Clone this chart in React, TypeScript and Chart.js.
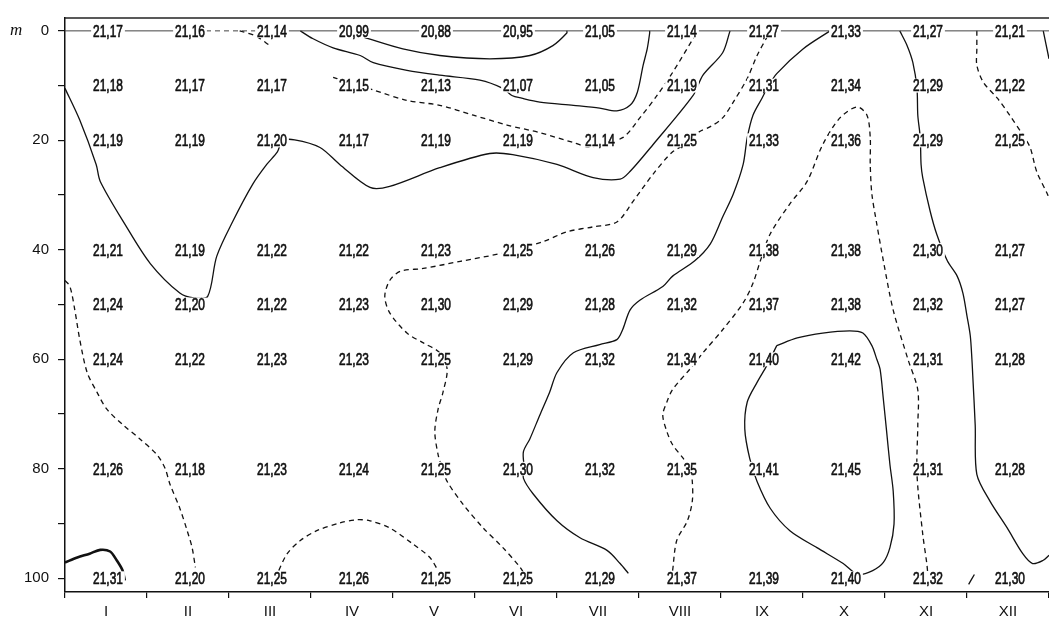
import React, { useEffect, useRef } from 'react';
import { Chart, registerables } from 'chart.js';

Chart.register(...registerables);

// ---- Data ----
const monthLabels = ['I', 'II', 'III', 'IV', 'V', 'VI', 'VII', 'VIII', 'IX', 'X', 'XI', 'XII'];
const monthPositions = [1, 2, 3, 4, 5, 6, 7, 8, 9, 10, 11, 12];
const depthTicks = [0, 10, 20, 30, 40, 50, 60, 70, 80, 90, 100];
const labelledDepths = [0, 20, 40, 60, 80, 100];
const depthUnit = 'm';

const stationDepths = [0, 10, 20, 40, 50, 60, 80, 100];
const t0 = [21.17, 21.16, 21.14, 20.99, 20.88, 20.95, 21.05, 21.14, 21.27, 21.33, 21.27, 21.21];
const t10 = [21.18, 21.17, 21.17, 21.15, 21.13, 21.07, 21.05, 21.19, 21.31, 21.34, 21.29, 21.22];
const t20 = [21.19, 21.19, 21.2, 21.17, 21.19, 21.19, 21.14, 21.25, 21.33, 21.36, 21.29, 21.25];
const t40 = [21.21, 21.19, 21.22, 21.22, 21.23, 21.25, 21.26, 21.29, 21.38, 21.38, 21.3, 21.27];
const t50 = [21.24, 21.2, 21.22, 21.23, 21.3, 21.29, 21.28, 21.32, 21.37, 21.38, 21.32, 21.27];
const t60 = [21.24, 21.22, 21.23, 21.23, 21.25, 21.29, 21.32, 21.34, 21.4, 21.42, 21.31, 21.28];
const t80 = [21.26, 21.18, 21.23, 21.24, 21.25, 21.3, 21.32, 21.35, 21.41, 21.45, 21.31, 21.28];
const t100 = [21.31, 21.2, 21.25, 21.26, 21.25, 21.25, 21.29, 21.37, 21.39, 21.4, 21.32, 21.3];
const valueRows = [t0, t10, t20, t40, t50, t60, t80, t100];

// Sea surface line (month, depth)
const surfaceLine: [number, number][] = [[0.5, 0], [1, 0], [2, 0], [3, 0], [4, 0], [5, 0], [6, 0], [7, 0], [8, 0], [9, 0], [10, 0], [11, 0], [12, 0], [12.5, 0]];

// Hand-drawn isotherms, read as (month, depth m)
const isoMainSolid: [number, number][] = [[0.5, 10.5], [0.68, 16.3], [0.88, 24.4], [0.93, 27.5], [1.23, 35.3], [1.54, 42.5], [1.9, 47.9], [2.07, 48.8], [2.24, 48.5], [2.35, 41.2], [2.55, 34.7], [2.79, 28.0], [2.96, 24.4], [3.09, 22.1], [3.15, 20.1], [3.3, 19.9], [3.61, 21.3], [3.85, 24.4], [4.22, 28.6], [4.46, 28.4], [5.07, 25.0], [5.68, 22.4], [5.96, 22.6], [6.5, 24.4], [6.94, 26.8], [7.27, 27.1], [7.39, 25.7], [7.67, 20.8], [8.16, 11.8], [8.28, 8.1], [8.52, 4.0], [8.61, 0]];
const isoInnerTop: [number, number][] = [[4.15, 1.2], [4.62, 3.3], [5.07, 4.5], [5.68, 5.1], [6.17, 4.5], [6.45, 2.7], [6.62, 0.4], [6.62, 0]];
const isoOuterTop: [number, number][] = [[3.37, 0], [3.52, 1.4], [3.77, 3.1], [4.1, 4.5], [4.26, 5.8], [4.67, 7.2], [5.07, 8.1], [5.56, 9.0], [5.84, 10.5], [5.95, 11.8], [6.07, 12.3], [6.29, 13.0], [6.7, 13.6], [7.02, 14.1], [7.23, 14.6], [7.39, 13.6], [7.48, 11.2], [7.55, 6.3], [7.6, 3.3], [7.63, 0.4], [7.63, 0]];
const isoDashedUpper: [number, number][] = [[3.77, 8.5], [4.26, 10.8], [4.67, 12.7], [5.07, 13.6], [5.48, 15.4], [5.89, 17.2], [6.29, 18.6], [6.7, 20.4], [6.9, 21.2], [7.3, 19.5], [7.51, 15.9], [7.72, 11.8], [7.91, 7.6], [8.16, 1.4], [8.21, 0]];
const isoSmallMarch: [number, number][] = [[2.63, 0], [2.82, 0.9], [3.0, 2.7]];
const isoDashedMid: [number, number][] = [[9.07, 0.9], [8.94, 4.5], [8.82, 8.7], [8.65, 13.0], [8.52, 15.9], [8.37, 17.5], [8.24, 18.4], [8.12, 20.3], [7.91, 22.1], [7.67, 26.2], [7.43, 31.1], [7.23, 34.9], [6.94, 35.8], [6.62, 36.7], [6.33, 38.5], [5.8, 40.7], [5.32, 42.1], [4.87, 43.4], [4.59, 43.9], [4.46, 45.6], [4.4, 48.5], [4.46, 51.5], [4.67, 55.2], [4.87, 57.0], [5.07, 58.8], [5.16, 61.8], [5.11, 66.0], [5.05, 69.1], [5.01, 73.2], [5.05, 77.4], [5.1, 79.9], [5.16, 82.3], [5.35, 86.4], [5.6, 90.8], [5.84, 94.4], [6.05, 98.0], [6.13, 100]];
const isoSolidMid: [number, number][] = [[9.83, 0], [9.5, 3.3], [9.18, 7.8], [9.07, 10.3], [9.0, 12.3], [8.89, 15.4], [8.82, 19.5], [8.77, 24.4], [8.65, 29.8], [8.52, 34.0], [8.37, 38.9], [8.18, 42.0], [7.91, 44.8], [7.79, 46.7], [7.51, 49.2], [7.39, 51.0], [7.3, 54.6], [7.23, 56.4], [7.02, 57.3], [6.7, 58.8], [6.5, 62.4], [6.41, 66.0], [6.29, 70.2], [6.17, 74.5], [6.09, 76.9], [6.1, 79.9], [6.09, 81.7], [6.21, 84.6], [6.5, 89.5], [6.78, 92.6], [7.11, 94.9], [7.27, 97.3], [7.37, 99.1]];
const isoDashedEast: [number, number][] = [[7.91, 98.6], [7.96, 93.1], [8.09, 89.5], [8.15, 85.9], [8.15, 82.3], [8.12, 79.9], [8.04, 78.1], [7.91, 75.6], [7.84, 73.2], [7.79, 70.2], [7.84, 67.8], [7.91, 65.5], [8.12, 61.8], [8.28, 58.8], [8.52, 54.6], [8.77, 49.7], [8.89, 46.1], [8.98, 42.0], [9.1, 37.1], [9.34, 31.6], [9.55, 27.5], [9.74, 20.8], [9.95, 15.9], [10.16, 13.9], [10.28, 15.4], [10.32, 19.5], [10.32, 24.4], [10.34, 29.8], [10.4, 35.3], [10.48, 42.0], [10.6, 51.0], [10.78, 60.0], [10.9, 65.6], [10.9, 72.0], [10.89, 81.0], [10.96, 91.9], [11.01, 97.3], [11.02, 98.9]];
const isoLoop: [number, number][] = [[9.18, 57.5], [9.43, 56.1], [9.74, 55.2], [10.07, 54.8], [10.23, 55.2], [10.34, 57.5], [10.4, 60.0], [10.44, 61.8], [10.48, 67.3], [10.52, 73.2], [10.56, 79.2], [10.6, 84.1], [10.61, 90.1], [10.56, 94.4], [10.48, 97.1], [10.35, 98.6], [10.17, 99.3], [9.99, 97.3], [9.67, 94.4], [9.34, 91.3], [9.1, 87.2], [8.94, 82.3], [8.85, 78.1], [8.79, 72.7], [8.82, 67.8], [8.94, 64.2], [9.06, 61.1], [9.18, 57.5]];
const isoSolidNov: [number, number][] = [[10.68, 0], [10.77, 2.7], [10.84, 5.8], [10.89, 10.5], [10.9, 15.4], [10.93, 19.5], [10.94, 24.4], [10.96, 26.8], [11.05, 32.9], [11.13, 37.1], [11.26, 42.0], [11.38, 44.8], [11.45, 47.9], [11.5, 52.1], [11.54, 55.7], [11.56, 60.0], [11.57, 62.9], [11.6, 72.0], [11.62, 81.0], [11.78, 85.9], [11.99, 90.8], [12.18, 95.5], [12.3, 97.3], [12.43, 96.7], [12.5, 95.8]];
const isoDashedDec: [number, number][] = [[11.62, 0], [11.62, 3.3], [11.62, 6.3], [11.7, 9.4], [11.87, 12.3], [12.02, 15.4], [12.18, 19.0], [12.27, 21.3], [12.35, 25.7], [12.48, 29.8], [12.5, 30.7]];
const isoSolidDecTop: [number, number][] = [[12.43, 0], [12.5, 5.1]];
const isoDashedWest: [number, number][] = [[0.5, 45.6], [0.56, 46.7], [0.62, 51.0], [0.68, 56.4], [0.77, 62.4], [0.89, 66.0], [1.01, 69.1], [1.21, 72.0], [1.41, 74.5], [1.62, 77.4], [1.72, 79.9], [1.78, 82.8], [1.9, 87.2], [1.99, 91.3], [2.05, 94.4], [2.09, 98.0]];
const isoBumpJan: [number, number][] = [[0.5, 97.1], [0.65, 96.2], [0.8, 95.5], [0.93, 94.8], [1.05, 95.1], [1.13, 96.7], [1.2, 98.5], [1.23, 100.4]];
const isoDome: [number, number][] = [[3.06, 100], [3.09, 99.1], [3.21, 95.5], [3.37, 93.1], [3.57, 91.3], [3.85, 89.9], [4.06, 89.3], [4.22, 89.5], [4.46, 90.8], [4.74, 93.7], [4.95, 96.2], [5.05, 98.6]];
const strokeNovBottom: [number, number][] = [[11.52, 101.1], [11.59, 99.3]];

const solidLines = [isoMainSolid, isoInnerTop, isoOuterTop, isoSolidMid, isoLoop, isoSolidNov, isoSolidDecTop, strokeNovBottom];
const dashedLines = [isoDashedUpper, isoSmallMarch, isoDashedMid, isoDashedEast, isoDashedDec, isoDashedWest, isoDome];

const fmt = (v: number) => v.toFixed(2).replace('.', ',');

const valuesPlugin = {
  id: 'valuesPlugin',
  afterDatasetsDraw(chart: any) {
    const ctx = chart.ctx as CanvasRenderingContext2D;
    const xs = chart.scales.xl;
    const ys = chart.scales.y;
    const area = chart.chartArea;
    ctx.save();
    // top frame line
    ctx.strokeStyle = '#222';
    ctx.lineWidth = 1.5;
    ctx.beginPath();
    ctx.moveTo(area.left, area.top);
    ctx.lineTo(area.right, area.top);
    ctx.stroke();

    ctx.font = '17px "Liberation Sans", Arial, sans-serif';
    ctx.textAlign = 'center';
    ctx.textBaseline = 'middle';
    const sx = 0.7;
    stationDepths.forEach((d, r) => {
      valueRows[r].forEach((v, i) => {
        const txt = fmt(v);
        const px = xs.getPixelForValue(monthPositions[i]) + 2;
        const py = ys.getPixelForValue(d);
        const w = ctx.measureText(txt).width * sx;
        ctx.fillStyle = '#fff';
        ctx.fillRect(px - w / 2 - 2, py - 7, w + 4, 14);
        ctx.save();
        ctx.translate(px, py + 1);
        ctx.scale(sx, 1);
        ctx.fillStyle = '#111';
        ctx.strokeStyle = '#111';
        ctx.lineWidth = 0.7;
        ctx.fillText(txt, 0, 0);
        ctx.strokeText(txt, 0, 0);
        ctx.restore();
      });
    });

    // unit label next to the 0 tick
    ctx.font = 'italic 17px "Liberation Serif", serif';
    ctx.textAlign = 'left';
    ctx.fillStyle = '#111';
    ctx.fillText(depthUnit, 10, ys.getPixelForValue(0));
    ctx.restore();
  },
};

export default function App() {
  const canvasRef = useRef<HTMLCanvasElement | null>(null);

  useEffect(() => {
    if (!canvasRef.current) return;
    const mk = (pts: [number, number][], dashed: boolean, width = 1.3) => ({
      data: pts.map(([x, y]) => ({ x, y })),
      xAxisID: 'xl',
      yAxisID: 'y',
      showLine: true,
      borderColor: '#111',
      borderWidth: width,
      borderDash: dashed ? [5, 4] : [],
      pointRadius: 0,
      pointHoverRadius: 0,
      tension: 0.3,
      fill: false,
    });
    const datasets: any[] = [
      {
        data: surfaceLine.map(([x, y]) => ({ x, y })),
        xAxisID: 'xl',
        yAxisID: 'y',
        showLine: true,
        borderColor: '#444',
        borderWidth: 1,
        pointRadius: 0,
        tension: 0,
        segment: { borderDash: (c: any) => (c.p0DataIndex === 2 ? [5, 4] : undefined) },
      },
      ...solidLines.map((p) => mk(p, false, 1.3)),
      mk(isoBumpJan, false, 2.6),
      ...dashedLines.map((p) => mk(p, true)),
    ];

    const chart = new Chart(canvasRef.current, {
      type: 'scatter',
      data: { labels: monthLabels, datasets },
      options: {
        animation: false,
        responsive: true,
        maintainAspectRatio: false,
        layout: { padding: { top: 12, right: 0, left: 0, bottom: 0 } },
        plugins: { legend: { display: false }, tooltip: { enabled: false } },
        scales: {
          x: {
            type: 'category',
            labels: monthLabels,
            offset: true,
            position: 'bottom',
            grid: { offset: true, drawOnChartArea: false, drawTicks: true, tickLength: 6, color: '#111', lineWidth: 1.2 },
            border: { display: true, color: '#111', width: 1.5 },
            ticks: { color: '#111', font: { family: '"Liberation Sans", Arial, sans-serif', size: 15 }, padding: 5, maxRotation: 0, autoSkip: false },
            afterFit: (axis: any) => { axis.height = 27; },
          },
          xl: {
            type: 'linear',
            display: false,
            min: 0.5,
            max: 12.5,
          },
          y: {
            type: 'linear',
            reverse: true,
            min: -2.35,
            max: 102.5,
            position: 'left',
            afterBuildTicks: (axis: any) => { axis.ticks = depthTicks.map((v) => ({ value: v })); },
            grid: { drawOnChartArea: false, drawTicks: true, tickLength: 7, color: '#111', lineWidth: 1.2 },
            border: { display: true, color: '#111', width: 1.5 },
            ticks: {
              color: '#111',
              font: { family: '"Liberation Sans", Arial, sans-serif', size: 15 },
              padding: 9,
              autoSkip: false,
              callback: (v: any) => (labelledDepths.includes(Number(v)) ? String(v) : ''),
            },
            afterFit: (axis: any) => { axis.width = 65; },
          },
        },
      },
      plugins: [valuesPlugin],
    });
    return () => chart.destroy();
  }, []);

  return (
    <div style={{ position: 'fixed', left: 0, top: 0, width: 1049, height: 619, background: '#fff' }}>
      <canvas ref={canvasRef} />
    </div>
  );
}
